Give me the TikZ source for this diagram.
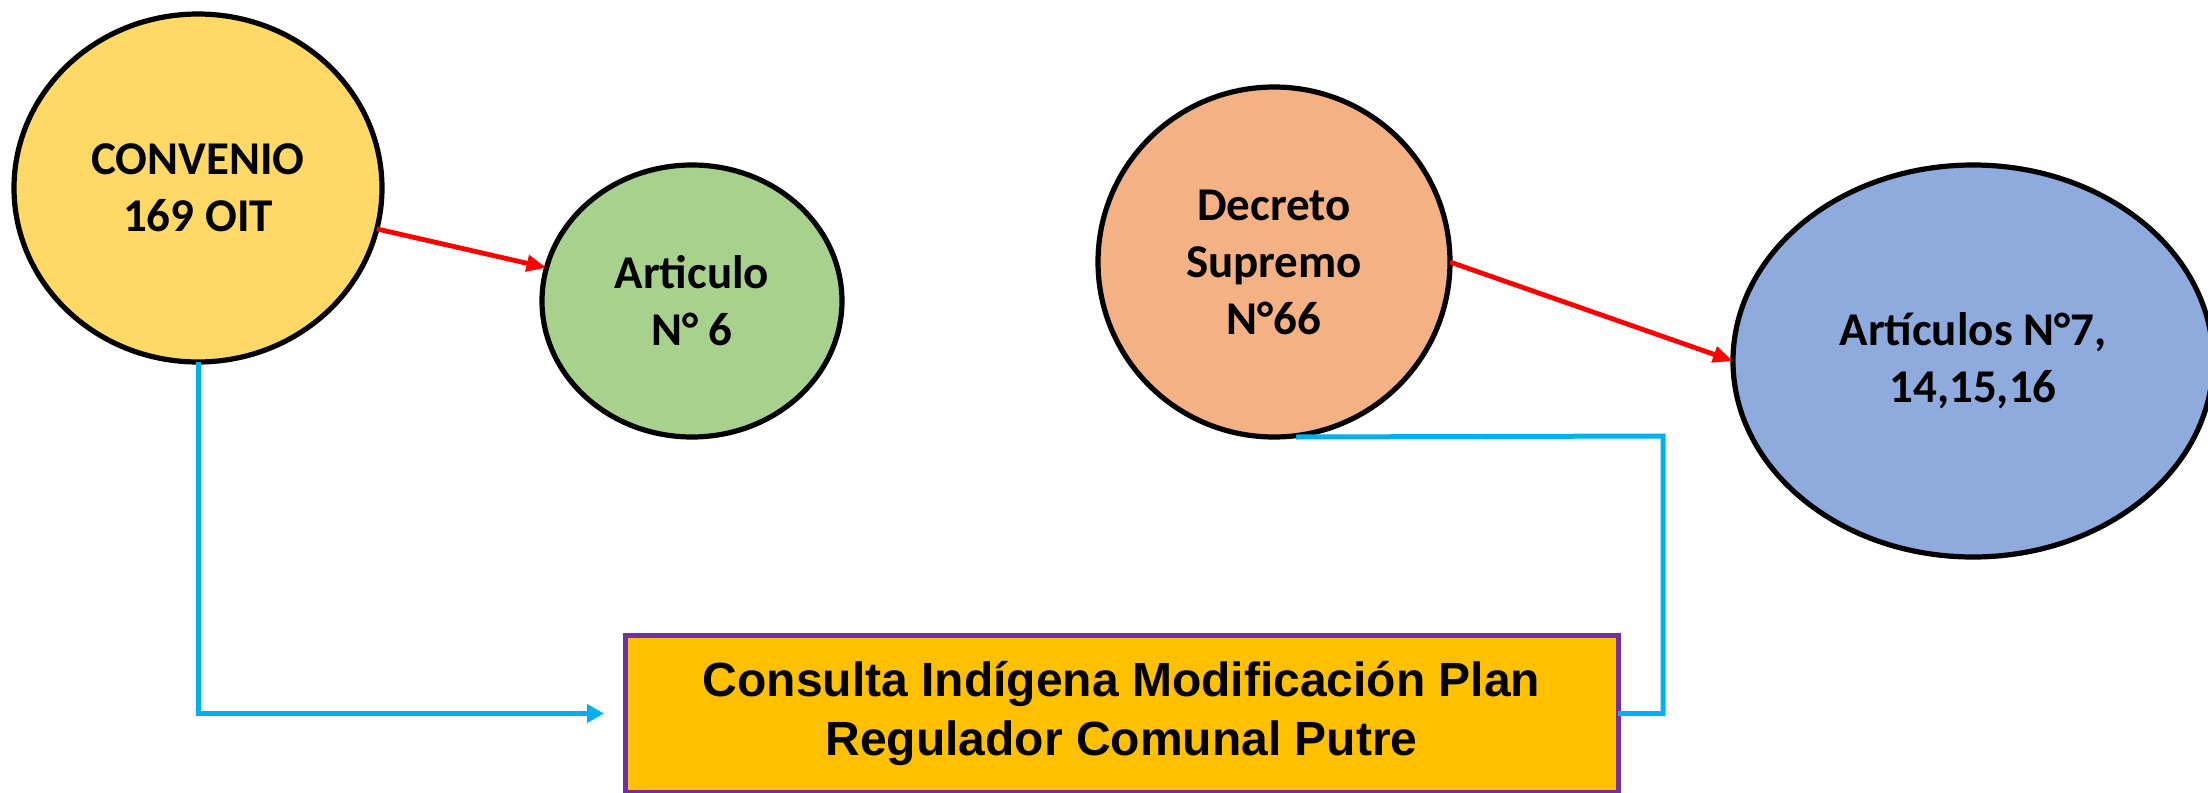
\documentclass[tikz,border=0pt]{standalone}
\usepackage{fontspec}
\newfontfamily\calib{Carlito}
\newfontfamily\arialf{Liberation Sans}
\usetikzlibrary{shapes.geometric,arrows.meta}
\definecolor{cyel}{HTML}{FFD966}
\definecolor{cgrn}{HTML}{A9D18E}
\definecolor{cora}{HTML}{F4B183}
\definecolor{cblu}{HTML}{8FAADC}
\definecolor{cbox}{HTML}{FFC000}
\definecolor{cpur}{HTML}{7030A0}
\definecolor{ccya}{HTML}{00B0F0}
\definecolor{cred}{HTML}{FF0000}
\tikzset{
  oval/.style={ellipse, draw=black, line width=2.6pt, inner sep=0pt, outer sep=0pt, align=center,
    font=\calib\bfseries\fontsize{23.5pt}{28.5pt}\selectfont},
  boxnode/.style={rectangle, draw=cpur, line width=2.5pt, fill=cbox, inner sep=0pt, outer sep=0pt, align=center,
    minimum width=496.5pt, minimum height=78.5pt,
    font=\arialf\bfseries\fontsize{24pt}{29.5pt}\selectfont},
  redarrow/.style={draw=cred, line width=2.4pt, -{Triangle[length=10pt,width=8pt]}},
  cyanline/.style={draw=ccya, line width=2.5pt},
}
\begin{document}
\begin{tikzpicture}[x=0.5pt,y=-0.5pt]
\useasboundingbox (0,0) rectangle (2208,793);
\clip (0,0) rectangle (2208,793);
\node[oval, fill=cyel, minimum width=184pt, minimum height=174pt] (conv) at (198,188) {CONVENIO\\169 OIT};
\node[oval, fill=cgrn, minimum width=150pt, minimum height=136pt] (art6) at (692,301) {Articulo\\N° 6};
\node[oval, fill=cora, minimum width=176pt, minimum height=175pt] (dec) at (1274,262) {Decreto\\Supremo\\N°66};
\node[oval, fill=cblu, minimum width=240pt, minimum height=196pt] (arts) at (1973,361) {Artículos N°7,\\14,15,16};
\node[boxnode] (cons) at (1121.5,713.5) {Consulta Indígena Modificación Plan\\Regulador Comunal Putre};
\coordinate (bend) at (1663,436);
\draw[redarrow] (conv) -- (art6);
\draw[redarrow] (dec.east) -- (arts.west);
\draw[cyanline, -{Triangle[length=8.5pt,width=9pt]}, shorten >=10.5pt] (conv.south) |- (cons.west);
\draw[cyanline] ([xshift=11pt]dec.south) -- (bend) |- (cons.east);
\end{tikzpicture}
\end{document}
